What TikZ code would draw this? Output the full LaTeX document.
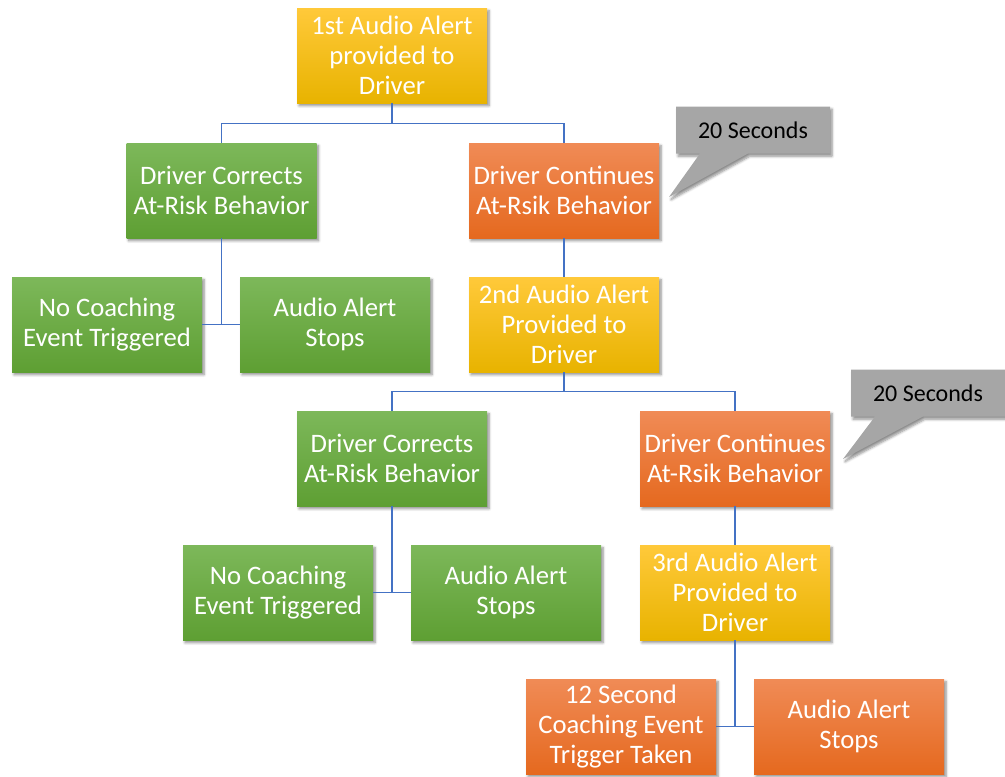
\documentclass[tikz,border=0pt]{standalone}
\usepackage{fontspec}
\setmainfont{Carlito}
\usetikzlibrary{positioning,calc,shadows.blur,shapes.callouts}
\definecolor{alertTop}{HTML}{FFC93A}
\definecolor{alertBot}{HTML}{E8B300}
\definecolor{okTop}{HTML}{7DB85A}
\definecolor{okBot}{HTML}{5E9F33}
\definecolor{riskTop}{HTML}{F08B56}
\definecolor{riskBot}{HTML}{E5691F}
\definecolor{linkblue}{HTML}{4472C4}
\definecolor{timergray}{HTML}{A6A6A6}
\tikzset{
  box/.style={minimum width=142.5pt, minimum height=71.25pt, inner sep=2pt,
    align=center, text=white, font=\fontsize{20}{22.5}\selectfont,
    blur shadow={shadow xshift=1.5pt, shadow yshift=-2pt, shadow blur steps=6, shadow opacity=45}},
  alertbox/.style={box, top color=alertTop, bottom color=alertBot},
  okbox/.style={box, top color=okTop, bottom color=okBot},
  riskbox/.style={box, top color=riskTop, bottom color=riskBot},
  link/.style={draw=linkblue, line width=0.9pt},
  timer/.style={rectangle callout, fill=timergray, minimum width=115.5pt, minimum height=35.25pt,
    callout pointer width=36pt, inner sep=2pt, text=black, font=\fontsize{18}{22.5}\selectfont,
    blur shadow={shadow xshift=1.5pt, shadow yshift=-2pt, shadow blur steps=6, shadow opacity=45}}
}

\begin{document}
\begin{tikzpicture}[x=0.75pt, y=-0.75pt]
    \useasboundingbox (0,0) rectangle (1005,776);
    % first alert
    \node[alertbox] (alert1) at (392,55.5) {1st Audio Alert\\provided to\\Driver};
    \node[okbox] (fix1) at (221.5,190.5) {Driver Corrects\\At-Risk Behavior};
    \node[riskbox] (keep1) at (564,190.5) {Driver Continues\\At-Rsik Behavior};
    \node[okbox] (nocoach1) at (107,324.5) {No Coaching\\Event Triggered};
    \node[okbox] (stop1) at (335,324.5) {Audio Alert\\Stops};
    \coordinate (tip1) at (669,197);
    \node[timer, callout absolute pointer={(tip1)}] (wait1) at (753,130) {20 Seconds};
    % second alert
    \node[alertbox] (alert2) at (564,324.5) {2nd Audio Alert\\Provided to\\Driver};
    \node[okbox] (fix2) at (392,458.5) {Driver Corrects\\At-Risk Behavior};
    \node[riskbox] (keep2) at (735,458.5) {Driver Continues\\At-Rsik Behavior};
    \node[okbox] (nocoach2) at (278,592.5) {No Coaching\\Event Triggered};
    \node[okbox] (stop2) at (506,592.5) {Audio Alert\\Stops};
    \coordinate (tip2) at (843,459);
    \node[timer, callout absolute pointer={(tip2)}] (wait2) at (928,393) {20 Seconds};
    % third alert
    \node[alertbox] (alert3) at (735,592.5) {3rd Audio Alert\\Provided to\\Driver};
    \node[riskbox] (coach3) at (621,726.5) {12 Second\\Coaching Event\\Trigger Taken};
    \node[riskbox] (stop3) at (849,726.5) {Audio Alert\\Stops};
    % links
    \draw[link] (alert1.south) -- ++(0,20) -| (fix1.north);
    \draw[link] (alert1.south) -- ++(0,20) -| (keep1.north);
    \draw[link] (fix1.south) -- (fix1.south |- nocoach1.east);
    \draw[link] (nocoach1.east) -- (stop1.west);
    \draw[link] (keep1.south) -- (alert2.north);
    \draw[link] (alert2.south) -- ++(0,19) -| (fix2.north);
    \draw[link] (alert2.south) -- ++(0,19) -| (keep2.north);
    \draw[link] (fix2.south) -- (fix2.south |- nocoach2.east);
    \draw[link] (nocoach2.east) -- (stop2.west);
    \draw[link] (keep2.south) -- (alert3.north);
    \draw[link] (alert3.south) -- (alert3.south |- coach3.east);
    \draw[link] (coach3.east) -- (stop3.west);
\end{tikzpicture}
\end{document}
